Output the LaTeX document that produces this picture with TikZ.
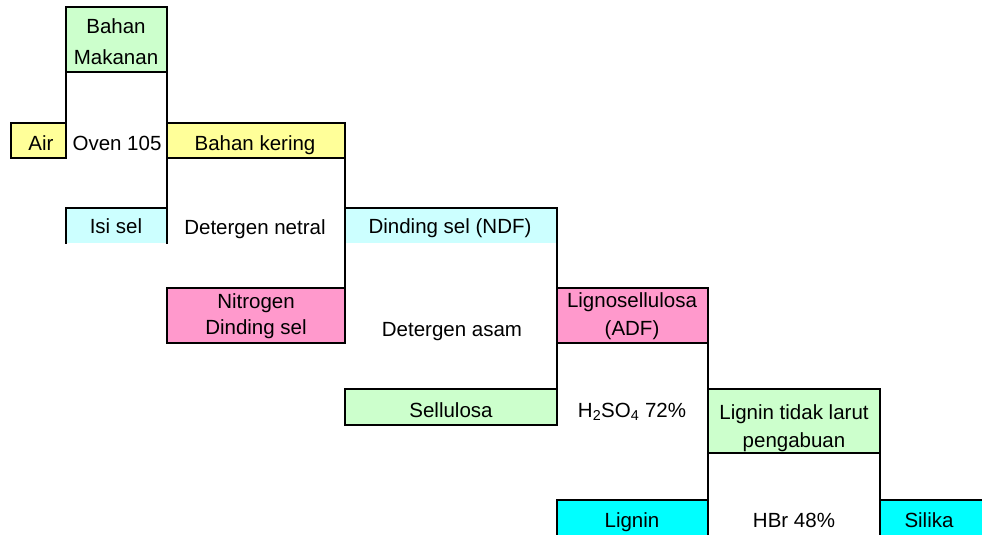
\documentclass[tikz,border=0pt]{standalone}
\usepackage{fontspec}
\setmainfont{Liberation Sans}
\definecolor{cgreen}{HTML}{CCFFCC}
\definecolor{cyellow}{HTML}{FFFF99}
\definecolor{clcyan}{HTML}{CCFFFF}
\definecolor{cpink}{HTML}{FF99CC}
\definecolor{ccyan}{HTML}{00FFFF}
\begin{document}
\begin{tikzpicture}[x=1pt,y=-1pt,
  every node/.style={font=\fontsize{20.5}{28}\selectfont, inner sep=0pt, outer sep=0pt},
  box/.style={anchor=north west, draw=none},
  txt/.style={anchor=base},
  border/.style={line width=1.8pt, line cap=rect, line join=miter}]
\useasboundingbox (0,0) rectangle (982,535);
% boxes
\node[box, fill=cgreen, minimum width=101pt, minimum height=65pt] (bm) at (66,7) {};
\node[box, fill=cyellow, minimum width=55pt, minimum height=35pt] (air) at (11,123) {};
\node[box, fill=cyellow, minimum width=178pt, minimum height=35pt] (bk) at (167,123) {};
\node[box, fill=clcyan, minimum width=101pt, minimum height=35pt] (isi) at (66,208) {};
\node[box, fill=clcyan, minimum width=212pt, minimum height=35pt] (ndf) at (345,208) {};
\node[box, fill=cpink, minimum width=178pt, minimum height=55pt] (nit) at (167,288) {};
\node[box, fill=cpink, minimum width=151pt, minimum height=55pt] (lig) at (557,288) {};
\node[box, fill=cgreen, minimum width=212pt, minimum height=36pt] (sel) at (345,389) {};
\node[box, fill=cgreen, minimum width=172pt, minimum height=64pt] (ltl) at (708,389) {};
\node[box, fill=ccyan, minimum width=151pt, minimum height=36pt] (lign) at (557,500) {};
\node[box, fill=ccyan, minimum width=102pt, minimum height=36pt] (sil) at (880,500) {};
% box texts
\node[txt] (bm1) at (116,34) {Bahan};
\node[txt] (bm2) at (116,65) {Makanan};
\node[txt] (airt) at (41,150) {Air};
\node[txt] (bkt) at (255,150) {Bahan kering};
\node[txt] (isit) at (116,233) {Isi sel};
\node[txt] (ndft) at (450,233) {Dinding sel (NDF)};
\node[txt] (nit1) at (256,308) {Nitrogen};
\node[txt] (nit2) at (256,334) {Dinding sel};
\node[txt] (lig1) at (632,307) {Lignosellulosa};
\node[txt] (lig2) at (632,335) {(ADF)};
\node[txt] (selt) at (451,417) {Sellulosa};
\node[txt] (ltl1) at (794,419) {Lignin tidak larut};
\node[txt] (ltl2) at (794,447) {pengabuan};
\node[txt] (lignt) at (632,527) {Lignin};
\node[txt] (silt) at (929,527) {Silika};
% process labels
\node[txt] (oven) at (117,150) {Oven 105};
\node[txt] (dn) at (255,234) {Detergen netral};
\node[txt] (da) at (452,336) {Detergen asam};
\node[txt] (h2) at (632,417) {H\textsubscript{2}SO\textsubscript{4} 72\%};
\node[txt] (hbr) at (794,527) {HBr 48\%};
% borders
\draw[border] (air.south east) -- (bm.north west) -- (bm.north east) -- (isi.south east);
\draw[border] (bm.south west) -- (bm.south east);
\draw[border] (air.north east) -- (air.north west) -- (air.south west) -- (air.south east);
\draw[border] (bk.north west) -- (bk.north east) -- (nit.south east);
\draw[border] (bk.south west) -- (bk.south east);
\draw[border] (isi.south west) -- (isi.north west) -- (isi.north east);
\draw[border] (ndf.north west) -- (ndf.north east) -- (sel.south east);
\draw[border] (nit.north east) -- (nit.north west) -- (nit.south west) -- (nit.south east);
\draw[border] (lig.north west) -- (lig.north east) -- (lign.south east);
\draw[border] (lig.south west) -- (lig.south east);
\draw[border] (sel.north east) -- (sel.north west) -- (sel.south west) -- (sel.south east);
\draw[border] (ltl.north west) -- (ltl.north east) -- (sil.south west);
\draw[border] (ltl.south west) -- (ltl.south east);
\draw[border] (lign.south west) -- (lign.north west) -- (lign.north east);
\draw[border] (sil.north west) -- (sil.north east);
\end{tikzpicture}
\end{document}
